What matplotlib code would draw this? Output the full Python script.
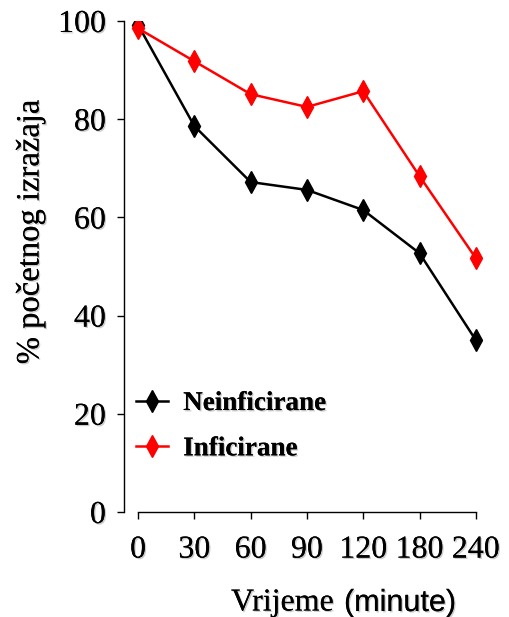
import numpy as np
import matplotlib
matplotlib.use("Agg")
import matplotlib.pyplot as plt
import matplotlib.patheffects as pe

# data
times = ["0", "30", "60", "90", "120", "180", "240"]
neinficirane = [99.2, 78.6, 67.2, 65.6, 61.5, 52.7, 35.0]
inficirane = [98.5, 91.8, 85.1, 82.5, 85.7, 68.4, 51.7]

W, H = 509, 617
fig = plt.figure(figsize=(W / 100, H / 100), dpi=100)
# axes box in pixels: left 124, right 482, top 21, bottom 512
ax = fig.add_axes([124 / W, 1 - 512 / H, (482 - 124) / W, (512 - 21) / H])

shadow = [pe.withSimplePatchShadow(offset=(1, -1), shadow_rgbFace="0.5", alpha=0.4), pe.Normal()]

x = np.arange(len(times))
ax.plot(x, neinficirane, color="black", lw=1.8, marker="d", ms=11, label="Neinficirane")
ax.plot(x, inficirane, color="red", lw=1.8, marker="d", ms=11, label="Inficirane")

ax.set_xlim(-0.25, 6.11)
ax.set_ylim(0, 100)
ax.set_yticks([0, 20, 40, 60, 80, 100])
ax.set_xticks(x)
ax.set_xticklabels(times)

for s in ["top", "right"]:
    ax.spines[s].set_visible(False)
ax.spines["bottom"].set_bounds(0, 6)
for s in ["left", "bottom"]:
    ax.spines[s].set_linewidth(1.0)

ax.tick_params(direction="out", length=5, width=1.0)
ax.tick_params(axis="y", pad=8)
ax.tick_params(axis="x", pad=12)
for lab in ax.get_xticklabels() + ax.get_yticklabels():
    lab.set_fontfamily("Liberation Serif")
    lab.set_fontsize(23)
    lab.set_path_effects(shadow)

fig.text(30 / W, 1 - 232 / H, "% početnog izražaja", rotation=90, ha="center", va="center",
         family="Liberation Serif", fontsize=23.5, path_effects=shadow)
fig.text(342 / W, 1 - 603 / H, "Vrijeme ", ha="right", va="center",
         family="Liberation Serif", fontsize=23, path_effects=shadow)
fig.text(344 / W, 1 - 603 / H, "(minute)", ha="left", va="center",
         family="Liberation Sans", fontsize=22, path_effects=shadow)

leg = ax.legend(loc="upper left", bbox_to_anchor=(-0.02, 0.285), frameon=False,
                prop={"family": "Liberation Serif", "weight": "bold", "size": 19.5},
                handlelength=1.2, handletextpad=0.55, labelspacing=0.75, borderaxespad=0.3)
for t in leg.get_texts():
    t.set_path_effects(shadow)

fig.savefig("out.png", dpi=100)
